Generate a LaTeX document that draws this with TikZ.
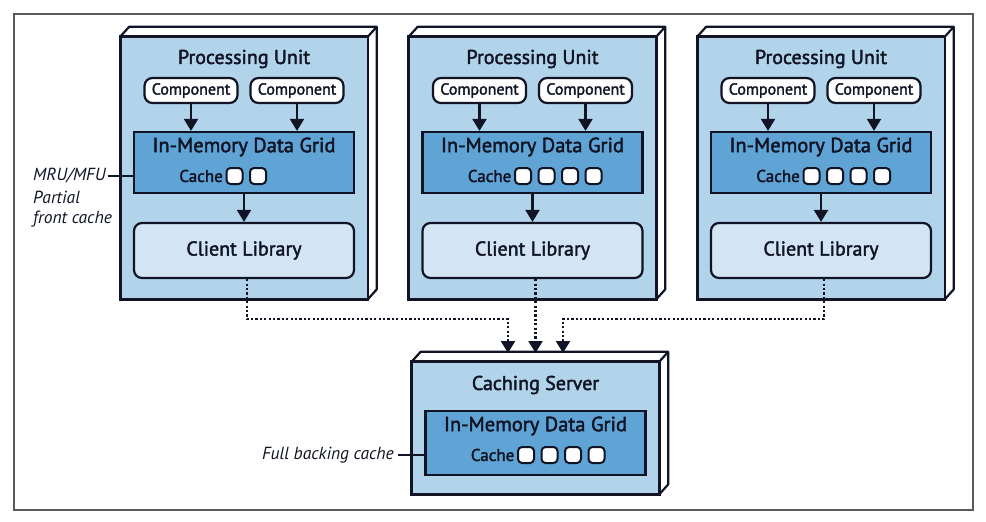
\documentclass[tikz,border=0pt]{standalone}
\usepackage{fontspec}
\setmainfont{PT Sans}
\newfontfamily\boxfont{PT Sans}[FakeBold=2]
\usetikzlibrary{arrows.meta}

\definecolor{inkc}{RGB}{16,20,36}
\definecolor{unitblue}{RGB}{178,212,235}
\definecolor{gridblue}{RGB}{96,164,214}
\definecolor{clientblue}{RGB}{211,229,243}
\definecolor{framegrey}{RGB}{90,90,90}

\tikzset{
  unitface/.style={draw=inkc, fill=unitblue, line width=2.6pt, minimum width=245pt, inner sep=0pt},
  depthface/.style={draw=inkc, fill=white, line width=2.2pt, line join=round},
  gridbox/.style={draw=inkc, fill=gridblue, line width=2.2pt, minimum width=220pt, inner sep=0pt},
  clientbox/.style={draw=inkc, fill=clientblue, line width=2.2pt, rounded corners=8pt,
    minimum width=220pt, minimum height=55pt, font=\boxfont\fontsize{20}{22}\selectfont, text=inkc},
  compbox/.style={draw=inkc, fill=white, line width=2.2pt, rounded corners=8pt,
    minimum width=93pt, minimum height=25pt, inner sep=0pt, font=\boxfont\fontsize{16}{18}\selectfont, text=inkc},
  cachecell/.style={draw=inkc, fill=white, line width=2pt, rounded corners=4pt,
    minimum width=16pt, minimum height=16pt, inner sep=0pt},
  titletext/.style={font=\boxfont\fontsize{20}{22}\selectfont, text=inkc},
  gridtext/.style={font=\boxfont\fontsize{20.5}{22}\selectfont, text=inkc},
  cachetext/.style={font=\boxfont\fontsize{17}{19}\selectfont, text=inkc, inner sep=0pt},
  notetext/.style={font=\fontsize{17.5}{19}\selectfont\itshape, text=inkc, inner sep=0pt},
  arr/.style={draw=inkc, line width=2.2pt, -{Triangle[length=12pt,width=14pt]}},
  dotarr/.style={arr, dash pattern=on 2.2pt off 2.2pt},
  noteline/.style={draw=inkc, line width=1.1pt}
}

\begin{document}
\begin{tikzpicture}[x=1pt,y=-1pt]
\useasboundingbox (0,0) rectangle (986,522);

% frame
\draw[framegrey, line width=1.2pt] (14,14) rectangle (973,510);

% processing units
\foreach \i/\cx/\n in {1/244/2, 2/532.5/4, 3/821/4}{
  \node[unitface, minimum height=260pt] (pu\i) at (\cx,168) {};
  \draw[depthface] (pu\i.north west) -- ++(9,-10) -- ([shift={(9,-10)}]pu\i.north east)
    -- ([shift={(9,-10)}]pu\i.south east) -- (pu\i.south east) -- (pu\i.north east) -- cycle;
  \draw[depthface] (pu\i.north east) -- ++(9,-10);
  \draw[unitface] (pu\i.north west) rectangle (pu\i.south east);
  \node[titletext] (put\i) at (\cx,59) {Processing Unit};
  % components
  \node[compbox] (ca\i) at (\cx-53,90.5) {Component};
  \node[compbox] (cb\i) at (\cx+53,90.5) {Component};
  % data grid
  \node[gridbox, minimum height=61pt] (g\i) at (\cx,162.5) {};
  \node[gridtext] (gt\i) at (\cx,147) {In-Memory Data Grid};
  \node[cachetext, anchor=east] (c\i) at (\cx-21,176) {Cache};
  \foreach \k in {1,...,\n}
    \node[cachecell] (cc\i\k) at (\cx-9.5+23.5*\k-23.5,176) {};
  % client library
  \node[clientbox] (cl\i) at (\cx,250.5) {Client Library};
  \draw[arr] (ca\i.south) -- (ca\i.south |- g\i.north);
  \draw[arr] (cb\i.south) -- (cb\i.south |- g\i.north);
  \draw[arr] (g\i.south) -- (cl\i.north);
}

% caching server
\node[unitface, minimum height=130pt] (cs) at (535.5,428) {};
\draw[depthface] (cs.north west) -- ++(9,-10) -- ([shift={(9,-10)}]cs.north east)
  -- ([shift={(9,-10)}]cs.south east) -- (cs.south east) -- (cs.north east) -- cycle;
\draw[depthface] (cs.north east) -- ++(9,-10);
\draw[unitface] (cs.north west) rectangle (cs.south east);
\node[titletext] (cst) at (535.5,385) {Caching Server};
\node[gridbox, minimum height=64pt] (csg) at (535.5,443) {};
\node[gridtext] (csgt) at (535.5,426) {In-Memory Data Grid};
\node[cachetext, anchor=east] (csc) at (514.5,455) {Cache};
\foreach \k in {1,...,4}
  \node[cachecell] (csc\k) at (526-23.5+23.5*\k,455) {};

% links to caching server
\coordinate (in1) at (508,353);
\coordinate (in2) at (535.5,353);
\coordinate (in3) at (563,353);
\draw[dotarr] ([xshift=3pt]cl1.south) -- ++(0,40) -| (in1);
\draw[dotarr] ([xshift=3pt]cl2.south) -- (in2);
\draw[dotarr] ([xshift=3pt]cl3.south) -- ++(0,40) -| (in3);

% notes
\node[notetext, anchor=west] (mru) at (33,176) {MRU/MFU};
\node[notetext, anchor=west] (partial) at (33,197.5) {Partial};
\node[notetext, anchor=west] (front) at (33,219) {front cache};
\draw[noteline] ([xshift=2pt]mru.east) -- (mru.east -| g1.west);
\node[notetext, anchor=east] (fbc) at (394,455) {Full backing cache};
\draw[noteline] ([xshift=4pt]fbc.east) -- (fbc.east -| csg.west);

\end{tikzpicture}
\end{document}
